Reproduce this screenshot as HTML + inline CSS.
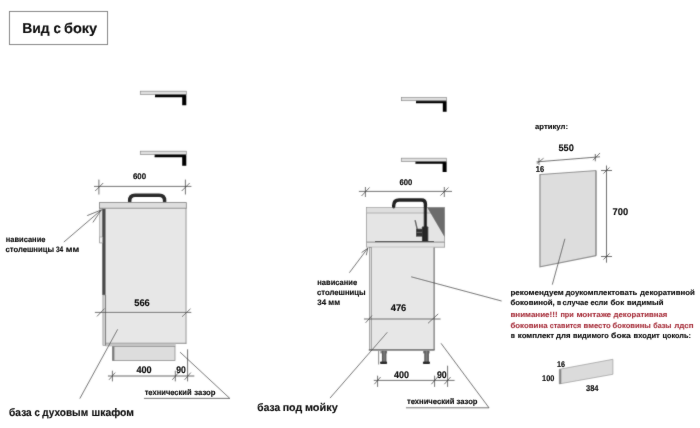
<!DOCTYPE html>
<html lang="ru">
<head>
<meta charset="utf-8">
<title>Вид с боку</title>
<style>
  html, body { margin: 0; padding: 0; background: #ffffff; }
  body { width: 700px; height: 428px; overflow: hidden; font-family: "Liberation Sans", sans-serif; }
  svg { display: block; }
  text { font-family: "Liberation Sans", sans-serif; font-weight: bold; fill: #0a0a0a; stroke: #0a0a0a; stroke-width: 0.12; text-rendering: geometricPrecision; }
  .ln { stroke: #3a3a3a; stroke-width: 0.7; fill: none; }
  .dim { stroke: #444; stroke-width: 0.75; fill: none; }
  .red { fill: #a93540; stroke: #a93540; }
</style>
</head>
<body>
<svg width="700" height="428" viewBox="0 0 700 428">
  <defs>
    <filter id="soft" x="0" y="0" width="700" height="428" filterUnits="userSpaceOnUse">
      <feConvolveMatrix order="3" kernelMatrix="0.02 0.075 0.02 0.075 0.62 0.075 0.02 0.075 0.02" divisor="1" edgeMode="duplicate" preserveAlpha="false"/>
    </filter>
    <filter id="txt" x="0" y="0" width="700" height="428" filterUnits="userSpaceOnUse">
      <feConvolveMatrix order="3" kernelMatrix="0.01 0.04 0.01 0.04 0.8 0.04 0.01 0.04 0.01" divisor="1" edgeMode="duplicate" preserveAlpha="false"/>
    </filter>
    <linearGradient id="leg" x1="0" x2="1" y1="0" y2="0">
      <stop offset="0" stop-color="#4e4e4e"/><stop offset="0.5" stop-color="#7e7e7e"/><stop offset="1" stop-color="#4e4e4e"/>
    </linearGradient>
  </defs>
  <rect x="0" y="0" width="700" height="428" fill="#ffffff"/>
  <g filter="url(#soft)">

  <!-- title box -->
  <rect x="9.5" y="11.5" width="98" height="33" fill="#fff" stroke="#7a7a7a" stroke-width="1"/>

  <!-- ===== LEFT: brackets ===== -->
  <g id="br1">
    <rect x="140.3" y="91.2" width="46" height="3.2" fill="#dedede" stroke="#8a8a8a" stroke-width="0.7"/>
    <path d="M155 94.4 H186.3 V105.3 H182.2 V97.3 H155 Z" fill="#000"/>
  </g>
  <g id="br2">
    <rect x="140.3" y="151.2" width="46" height="3.2" fill="#dedede" stroke="#8a8a8a" stroke-width="0.7"/>
    <path d="M154.6 154.4 H186.3 V165.7 H182.2 V157.3 H154.6 Z" fill="#000"/>
  </g>

  <!-- 600 dim left -->
  <path class="dim" d="M94 186.4 H191.4 M98.9 179.6 V194.5 M185.4 179.6 V194.5 M95.2 191 L103.2 183 M181.7 191 L189.7 183"/>

  <!-- ===== LEFT cabinet ===== -->
  <!-- handle -->
  <path d="M129.7 202.4 V200.6 Q129.7 195.2 135.1 195.2 H159.2 Q164.6 195.2 164.6 200.6 V202.4" fill="none" stroke="#2a2a2a" stroke-width="3.5"/>
  <!-- body -->
  <rect x="105.5" y="208" width="80.8" height="135.7" fill="#e7e7e7"/>
  <path d="M186 208 V343.7" stroke="#a8a8a8" stroke-width="1.2"/>
  <path d="M105.5 343.3 H186.3" stroke="#8c8c8c" stroke-width="1.1"/>
  <rect x="105.5" y="343.6" width="70.2" height="2.8" fill="#c4c4c4"/>
  <!-- door strips -->
  <rect x="99.7" y="208.5" width="2.8" height="34.4" fill="#dcdcdc" stroke="#969696" stroke-width="0.6"/>
  <rect x="102.3" y="208.5" width="3.3" height="86.5" fill="#484848"/>
  <rect x="99.8" y="237" width="2.6" height="5.9" fill="#f6f6f6" stroke="#8a8a8a" stroke-width="0.5"/>
  <rect x="102.9" y="295" width="2.8" height="50.3" fill="#cfcfcf" stroke="#8a8a8a" stroke-width="0.6"/>
  <path d="M105.6 295 V345.3" stroke="#6a6a6a" stroke-width="0.8"/>
  <!-- countertop -->
  <rect x="99.5" y="202.6" width="86.8" height="5.6" fill="#dedede" stroke="#7c7c7c" stroke-width="0.8"/>
  <!-- plinth -->
  <rect x="112.6" y="346.4" width="62.4" height="14.1" fill="#dddddd" stroke="#8c8c8c" stroke-width="0.8"/>
  <path d="M113.4 346.4 V360.6" stroke="#7c7c7c" stroke-width="2"/>

  <!-- 566 -->
  <path class="dim" d="M94.9 312.4 H191.3 M97 316.4 L104.5 308.6 M182 316.8 L190.5 308.8"/>

  <!-- 400 / 90 -->
  <path d="M107.9 376 H194.3" stroke="#9a9a9a" stroke-width="1.6" fill="none"/>
  <path class="dim" d="M112.4 370.7 V381.4 M175.3 370.7 V381.4 M187.6 349.3 V381.4 M109 379.8 L115.2 372.6 M172.3 379.8 L178.5 372.6 M184.6 379.8 L190.8 372.6"/>

  <!-- leader: tech gap left -->
  <path class="ln" d="M180.1 352.2 L229.8 398.4 H144"/>

  <!-- leader: base label left -->
  <path class="ln" d="M117.7 329.3 L79.8 398.6"/>

  <!-- overhang label left -->
  <path class="ln" d="M63.9 242 L101.4 209.9 M101.4 209.9 L87.2 215.6 M101.4 209.9 L92.9 222.4"/>

  <!-- ===== MIDDLE: brackets ===== -->
  <g id="br3">
    <rect x="401.4" y="97.5" width="45.1" height="3.2" fill="#dedede" stroke="#8a8a8a" stroke-width="0.7"/>
    <path d="M416 100.8 H446.6 V111.7 H442.8 V103.3 H416 Z" fill="#000"/>
  </g>
  <g id="br4">
    <rect x="401.3" y="158.2" width="45" height="3.2" fill="#dedede" stroke="#8a8a8a" stroke-width="0.7"/>
    <path d="M415.4 161.4 H446.6 V172 H442.6 V163.7 H415.4 Z" fill="#000"/>
  </g>

  <!-- 600 dim middle -->
  <path class="dim" d="M358.9 191.4 H452 M365.4 187 V197 M444.3 187 V197 M361.5 196 L369.5 187.5 M440.5 195.5 L448.5 187.5"/>

  <!-- ===== MIDDLE: sink ===== -->
  <rect x="366.5" y="207.4" width="78" height="34.6" fill="#e5e5e5" stroke="#9a9a9a" stroke-width="0.8"/>
  <rect x="366.9" y="207.8" width="77.2" height="5.2" fill="#dedede"/>
  <path d="M366.5 213 H444.5" stroke="#a6a6a6" stroke-width="0.8"/>
  <path d="M427.2 207.5 H444.5 V237 Z" fill="#6c6c6c"/>
  <!-- faucet -->
  <path d="M393.7 206.8 V205.6 Q393.7 200 399.3 200 H421.4 Q425.4 200 425.4 204 V240" fill="none" stroke="#222" stroke-width="3.4" stroke-linecap="round"/>
  <rect x="421.9" y="226.4" width="6.4" height="15.2" rx="0.8" fill="#262626"/>
  <rect x="416" y="228.7" width="7" height="7.9" fill="#303030"/>
  <path d="M415.1 220.1 L417.2 229.2" stroke="#5a5a5a" stroke-width="1.4"/>
  <path d="M416.3 232.4 H422" stroke="#6a6a6a" stroke-width="0.9"/>
  <path d="M375 241.6 H434" stroke="#333" stroke-width="1.2"/>
  <!-- countertop -->
  <rect x="366.6" y="242.3" width="78" height="4.9" fill="#e4e4e4" stroke="#999" stroke-width="0.8"/>

  <!-- sink cabinet -->
  <rect x="371.7" y="247.5" width="62.5" height="102" fill="#e7e7e7"/>
  <rect x="369.4" y="247.6" width="2.3" height="102" fill="#d8d8d8" stroke="#7c7c7c" stroke-width="0.6"/>
  <path d="M434.1 247.5 V350" stroke="#555" stroke-width="1"/>
  <path d="M368.8 349.9 H434.6" stroke="#7a7a7a" stroke-width="1.7"/>
  <!-- legs -->
  <path d="M378.6 350.5 V364.6" stroke="#9a9a9a" stroke-width="1.2"/>
  <rect x="380.4" y="350.8" width="6.7" height="2.6" fill="#8a8a8a"/>
  <rect x="381.9" y="350.8" width="4.5" height="11.4" fill="url(#leg)"/>
  <rect x="380" y="361.5" width="7.1" height="2.5" rx="1" fill="#2c2c2c"/>
  <rect x="423" y="350.8" width="6.7" height="2.6" fill="#8a8a8a"/>
  <rect x="424.3" y="350.8" width="4.6" height="11.4" fill="url(#leg)"/>
  <rect x="422.9" y="361.5" width="7.1" height="2.5" rx="1" fill="#2c2c2c"/>

  <!-- 476 -->
  <path class="dim" d="M364 319 H440.6 M365.6 322.8 L372 315.6 M428 323.3 L438.2 313.9"/>

  <!-- 400 / 90 middle -->
  <path class="dim" d="M373.8 380.4 H454.6 M377.6 375.7 V386.9 M434.6 375.7 V386.9 M447.6 365.7 V386.9 M374.4 384.2 L380.6 377 M431.4 384.2 L437.6 377 M444.4 384.2 L450.6 377"/>

  <!-- leader: tech gap middle -->
  <path class="ln" d="M441 343.3 L489 407.8 H406"/>

  <!-- leader: base label middle -->
  <path class="ln" d="M387.3 332.3 L330 398.1"/>

  <!-- overhang label middle -->
  <path class="ln" d="M349.4 272.7 L367.8 248.2 M367.8 248.2 L361.6 252.6 M367.8 248.2 L366.3 255.2"/>

  <!-- leader to right text -->
  <path class="ln" d="M411.2 276.8 L501.6 301"/>

  <!-- ===== RIGHT ===== -->
  <path class="dim" d="M536.5 161.9 L600 156.8 M539 158 V165 M595.3 154 V161.3 M536.8 163.6 L543.6 158.2 M593 160.2 L600 153"/>

  <!-- panel -->
  <path d="M539.6 174.6 L596 170.6 V255.7 L539.6 267 Z" fill="#dddddd"/>
  <path d="M540 174.6 V266.8 L596 255.6" fill="none" stroke="#8e8e8e" stroke-width="1.2"/>
  <path d="M596 170.6 V255.7" stroke="#707070" stroke-width="1.2"/>
  <path d="M539.6 174.6 L596 170.6" stroke="#888" stroke-width="0.9"/>

  <!-- 700 dim -->
  <path class="dim" d="M606.5 165.5 V262.7 M601 170.5 H612 M601 256.5 H612 M603.5 173.5 L609.5 167.5 M603.5 259.5 L609.5 253.5"/>

  <!-- leader panel -> text -->
  <path class="ln" d="M564.9 238.8 L552.3 284.6"/>

  <!-- text block -->

  <!-- plinth piece -->
  <path d="M559.3 369.3 L612.9 359.3 V374.3 L559.3 383.9 Z" fill="#dbdbdb" stroke="#9a9a9a" stroke-width="0.7"/>
  <path d="M560.3 369.3 V383.9" stroke="#858585" stroke-width="2"/>
  </g>

  <!-- ===== all text labels ===== -->
  <g filter="url(#txt)">
  <text x="22.23" y="33.2" font-size="14.3" textLength="27.47" lengthAdjust="spacingAndGlyphs" stroke-width="0.6" fill="#000" stroke="#000">Вид</text>
  <text x="53.5" y="33.2" font-size="14.3" textLength="7.4" lengthAdjust="spacingAndGlyphs" stroke-width="0.6" fill="#000" stroke="#000">с</text>
  <text x="63.93" y="33.2" font-size="14.3" textLength="33.27" lengthAdjust="spacingAndGlyphs" stroke-width="0.6" fill="#000" stroke="#000">боку</text>
  <text x="132.9" y="179" font-size="8.2" textLength="13.2" lengthAdjust="spacingAndGlyphs" stroke-width="0.25">600</text>
  <text x="134.2" y="306.1" font-size="9.6" textLength="15.6" lengthAdjust="spacingAndGlyphs">566</text>
  <text x="136.4" y="372.9" font-size="9.6" textLength="15.3" lengthAdjust="spacingAndGlyphs">400</text>
  <text x="176.3" y="372.8" font-size="9.6" textLength="9.6" lengthAdjust="spacingAndGlyphs">90</text>
  <text x="144.68" y="395" font-size="7.9" textLength="46.97" lengthAdjust="spacingAndGlyphs">технический</text>
  <text x="194.28" y="395" font-size="7.9" textLength="21.27" lengthAdjust="spacingAndGlyphs">зазор</text>
  <text x="9.06" y="416.2" font-size="10.9" textLength="22.7" lengthAdjust="spacingAndGlyphs" stroke-width="0.45">база</text>
  <text x="34.5" y="416.2" font-size="10.9" textLength="5.3" lengthAdjust="spacingAndGlyphs" stroke-width="0.45">с</text>
  <text x="42.16" y="416.2" font-size="10.9" textLength="46.0" lengthAdjust="spacingAndGlyphs" stroke-width="0.45">духовым</text>
  <text x="91.56" y="416.2" font-size="10.9" textLength="42.4" lengthAdjust="spacingAndGlyphs" stroke-width="0.45">шкафом</text>
  <text x="5.8" y="241.9" font-size="7.9" textLength="39.6" lengthAdjust="spacingAndGlyphs">нависание</text>
  <text x="5.48" y="252.2" font-size="7.9" textLength="48.5" lengthAdjust="spacingAndGlyphs">столешницы</text>
  <text x="55.9" y="252.2" font-size="7.9" textLength="7.3" lengthAdjust="spacingAndGlyphs">34</text>
  <text x="65.68" y="252.2" font-size="7.9" textLength="13.47" lengthAdjust="spacingAndGlyphs">мм</text>
  <text x="399.4" y="185" font-size="8.2" textLength="12.8" lengthAdjust="spacingAndGlyphs" stroke-width="0.25">600</text>
  <text x="390.7" y="311" font-size="9.6" textLength="15.6" lengthAdjust="spacingAndGlyphs">476</text>
  <text x="394" y="378.4" font-size="9.6" textLength="15" lengthAdjust="spacingAndGlyphs">400</text>
  <text x="436.9" y="378.3" font-size="9.6" textLength="9.8" lengthAdjust="spacingAndGlyphs">90</text>
  <text x="406.9" y="404.2" font-size="7.9" textLength="70.6" lengthAdjust="spacingAndGlyphs">технический зазор</text>
  <text x="257.36" y="410.9" font-size="10.9" textLength="22.7" lengthAdjust="spacingAndGlyphs" stroke-width="0.45">база</text>
  <text x="282.66" y="410.9" font-size="10.9" textLength="19.5" lengthAdjust="spacingAndGlyphs" stroke-width="0.45">под</text>
  <text x="304.96" y="410.9" font-size="10.9" textLength="32.8" lengthAdjust="spacingAndGlyphs" stroke-width="0.45">мойку</text>
  <text x="317.3" y="284.5" font-size="7.9" textLength="39.8" lengthAdjust="spacingAndGlyphs">нависание</text>
  <text x="316.98" y="294.8" font-size="7.9" textLength="48.67" lengthAdjust="spacingAndGlyphs">столешницы</text>
  <text x="317.3" y="305.1" font-size="7.9" textLength="22.8" lengthAdjust="spacingAndGlyphs">34 мм</text>
  <text x="535" y="129.2" font-size="7.4" textLength="33" lengthAdjust="spacingAndGlyphs">артикул:</text>
  <text x="558.4" y="151" font-size="9.5" textLength="15.4" lengthAdjust="spacingAndGlyphs">550</text>
  <text x="535.8" y="171.8" font-size="8.5" textLength="8.3" lengthAdjust="spacingAndGlyphs">16</text>
  <text x="612.6" y="215.4" font-size="9.8" textLength="15.6" lengthAdjust="spacingAndGlyphs">700</text>
  <text x="510.4" y="295.4" font-size="7.4" textLength="53.41" lengthAdjust="spacingAndGlyphs">рекомендуем</text>
  <text x="565.4" y="295.4" font-size="7.4" textLength="72.01" lengthAdjust="spacingAndGlyphs">доукомплектовать</text>
  <text x="640.1" y="295.4" font-size="7.4" textLength="54.61" lengthAdjust="spacingAndGlyphs">декоративной</text>
  <text x="510.4" y="305.4" font-size="7.4" textLength="44.41" lengthAdjust="spacingAndGlyphs">боковиной,</text>
  <text x="557.1" y="305.4" font-size="7.4" textLength="4.1" lengthAdjust="spacingAndGlyphs">в</text>
  <text x="562.6" y="305.4" font-size="7.4" textLength="25.81" lengthAdjust="spacingAndGlyphs">случае</text>
  <text x="590.4" y="305.4" font-size="7.4" textLength="17.51" lengthAdjust="spacingAndGlyphs">если</text>
  <text x="610.4" y="305.4" font-size="7.4" textLength="13.71" lengthAdjust="spacingAndGlyphs">бок</text>
  <text x="627.1" y="305.4" font-size="7.4" textLength="36.31" lengthAdjust="spacingAndGlyphs">видимый</text>
  <text class="red" x="510.4" y="317.2" font-size="7.4" textLength="47.21" lengthAdjust="spacingAndGlyphs">внимание!!!</text>
  <text class="red" x="560.4" y="317.2" font-size="7.4" textLength="13.41" lengthAdjust="spacingAndGlyphs">при</text>
  <text class="red" x="576.4" y="317.2" font-size="7.4" textLength="34.81" lengthAdjust="spacingAndGlyphs">монтаже</text>
  <text class="red" x="613.6" y="317.2" font-size="7.4" textLength="53.81" lengthAdjust="spacingAndGlyphs">декоративная</text>
  <text class="red" x="510.4" y="327.8" font-size="7.4" textLength="37.21" lengthAdjust="spacingAndGlyphs">боковина</text>
  <text class="red" x="549.7" y="327.8" font-size="7.4" textLength="31.51" lengthAdjust="spacingAndGlyphs">ставится</text>
  <text class="red" x="583.6" y="327.8" font-size="7.4" textLength="27.21" lengthAdjust="spacingAndGlyphs">вместо</text>
  <text class="red" x="612.6" y="327.8" font-size="7.4" textLength="38.21" lengthAdjust="spacingAndGlyphs">боковины</text>
  <text class="red" x="653.3" y="327.8" font-size="7.4" textLength="18.21" lengthAdjust="spacingAndGlyphs">базы</text>
  <text class="red" x="674.3" y="327.8" font-size="7.4" textLength="19.31" lengthAdjust="spacingAndGlyphs">лдсп</text>
  <text x="510.7" y="337.9" font-size="7.4" textLength="4.2" lengthAdjust="spacingAndGlyphs">в</text>
  <text x="517.8" y="337.9" font-size="7.4" textLength="36.31" lengthAdjust="spacingAndGlyphs">комплект</text>
  <text x="556.1" y="337.9" font-size="7.4" textLength="14.41" lengthAdjust="spacingAndGlyphs">для</text>
  <text x="573.0" y="337.9" font-size="7.4" textLength="35.81" lengthAdjust="spacingAndGlyphs">видимого</text>
  <text x="611.1" y="337.9" font-size="7.4" textLength="19.71" lengthAdjust="spacingAndGlyphs">бока</text>
  <text x="633.6" y="337.9" font-size="7.4" textLength="26.21" lengthAdjust="spacingAndGlyphs">входит</text>
  <text x="662.6" y="337.9" font-size="7.4" textLength="28.31" lengthAdjust="spacingAndGlyphs">цоколь:</text>
  <text x="557.1" y="367.4" font-size="8.3" textLength="8" lengthAdjust="spacingAndGlyphs">16</text>
  <text x="542.1" y="380.7" font-size="8.3" textLength="12.3" lengthAdjust="spacingAndGlyphs">100</text>
  <text x="586" y="391" font-size="8.3" textLength="12.4" lengthAdjust="spacingAndGlyphs">384</text>
  </g>
</svg>
</body>
</html>
